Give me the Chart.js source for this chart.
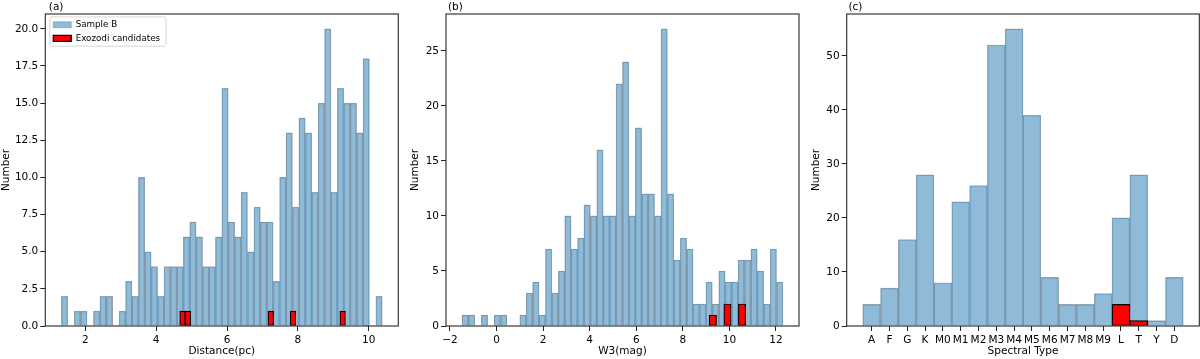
<!DOCTYPE html>
<html>
<head>
<meta charset="utf-8">
<script src="https://cdn.jsdelivr.net/npm/chart.js@4.4.1/dist/chart.umd.min.js"></script>
<style>
  html, body { margin: 0; padding: 0; background: #fff; }
  #wrap { position: relative; width: 1200px; height: 359px; overflow: hidden; }
  .panel { position: absolute; top: 0; width: 400px; height: 359px; }
</style>
</head>
<body>
<div id="wrap">
  <div class="panel" style="left:0px"><canvas id="distChart" width="400" height="359"></canvas></div>
  <div class="panel" style="left:400px"><canvas id="w3Chart" width="400" height="359"></canvas></div>
  <div class="panel" style="left:800px"><canvas id="specChart" width="400" height="359"></canvas></div>
</div>
<script>
// (a) distance histogram, 50 bins
const distBinStart = 1.322;
const distBinWidth = 0.1812;
const distCounts = [2,0,1,1,0,1,2,2,0,1,3,2,10,5,4,2,4,4,4,6,7,6,4,4,6,16,7,6,9,5,8,7,7,3,10,13,8,14,13,9,15,20,9,16,15,15,13,18,0,2];
// exozodi candidates, own binning (30 bins)
const distExoStart = 4.664;
const distExoWidth = 0.1559;
const distExoCounts = [1,1,0,0,0,0,0,0,0,0,0,0,0,0,0,0,1,0,0,0,1,0,0,0,0,0,0,0,0,1];
const distRange = [0.869, 10.834];
const distTicks = [2, 4, 6, 8, 10];
const distYTicks = [0, 2.5, 5, 7.5, 10, 12.5, 15, 17.5, 20];

// (b) W3 histogram, 50 bins
const w3BinStart = -1.484;
const w3BinWidth = 0.2757;
const w3Counts = [1,1,0,1,0,1,1,0,0,1,3,4,1,7,3,5,10,7,8,11,10,16,10,10,22,24,10,18,12,12,10,27,12,6,8,7,2,2,4,2,5,4,4,6,6,7,5,2,7,4];
const w3ExoStart = 9.135;
const w3ExoWidth = 0.313;
const w3ExoCounts = [1,0,2,0,2];
const w3Range = [-2.17, 12.99];
const w3Ticks = [-2, 0, 2, 4, 6, 8, 10, 12];
const w3YTicks = [0, 5, 10, 15, 20, 25];

// (c) spectral types
const spectralTypes = ['A','F','G','K','M0','M1','M2','M3','M4','M5','M6','M7','M8','M9','L','T','Y','D'];
const spectralCounts = [4,7,16,28,8,23,26,52,55,39,9,4,4,6,20,28,1,9];
const spectralExoCounts = [0,0,0,0,0,0,0,0,0,0,0,0,0,0,4,1,0,0];
const specRange = [-1.4, 18.4];
const specYTicks = [0, 10, 20, 30, 40, 50];

const FONT = '"DejaVu Sans", sans-serif';
Chart.defaults.font.family = FONT;
Chart.defaults.font.size = 10.5;
Chart.defaults.color = '#000';

const BLUE = 'rgba(31,119,180,0.5)';
const BLUE_EDGE = 'rgba(90,105,118,0.55)';
const RED = '#ff0000';
const LEGEND_FS = 8.75;
const LEGEND_PAD = 4.75;

function binCenters(start, width, n) {
  return Array.from({length: n}, (_, i) => start + width * (i + 0.5));
}
function toPoints(xs, ys) {
  return ys.map((y, i) => ({x: xs[i], y: y}));
}
function minus(v) {
  return v < 0 ? '\u2212' + Math.abs(v) : String(v);
}

// axes frame on all four sides, and nudge the panel label to the right
const framePlugin = {
  id: 'frame',
  afterLayout(chart, args, opts) {
    if (chart.titleBlock) {
      chart.titleBlock.left += opts.titleShift || 0;
      chart.titleBlock.right += opts.titleShift || 0;
    }
  },
  afterDraw(chart) {
    const {ctx, chartArea: a} = chart;
    ctx.save();
    ctx.strokeStyle = '#262626';
    ctx.lineWidth = 1.1;
    ctx.strokeRect(a.left, a.top, a.right - a.left, a.bottom - a.top);
    ctx.restore();
  }
};

const legendFramePlugin = {
  id: 'legendFrame',
  afterLayout(chart) {
    const lg = chart.legend;
    lg.left = chart.chartArea.left + 3.2;
    lg.top = chart.chartArea.top + 1.7;
    lg.bottom = chart.chartArea.bottom;
  },
  beforeDraw(chart) {
    const lg = chart.legend;
    const ctx = chart.ctx;
    ctx.save();
    ctx.font = LEGEND_FS + 'px ' + FONT;
    const tw = Math.max(...lg.legendItems.map(it => ctx.measureText(it.text).width));
    const x0 = lg.left + LEGEND_PAD;
    const y0 = lg.top + LEGEND_PAD;
    const n = lg.legendItems.length;
    const left = x0 - 3.3;
    const top = y0 - 3.5;
    const right = x0 + 18 + LEGEND_FS / 2 + tw + 6;
    const bottom = y0 + n * (LEGEND_FS + LEGEND_PAD) - LEGEND_PAD + 3.5;
    ctx.beginPath();
    ctx.roundRect(left, top, right - left, bottom - top, 2);
    ctx.fillStyle = 'rgba(255,255,255,0.8)';
    ctx.fill();
    ctx.strokeStyle = '#d6d6d6';
    ctx.lineWidth = 1;
    ctx.stroke();
    ctx.restore();
  }
};

function xScale(range, ticksArr, title, fmt) {
  return {
    type: 'linear', axis: 'x', position: 'bottom',
    min: range[0], max: range[1], offset: false,
    grid: { display: true, offset: false, drawOnChartArea: false, drawTicks: true, tickLength: 5, color: '#222', lineWidth: 1 },
    border: { display: false },
    ticks: { padding: 3, autoSkip: false, maxRotation: 0, minRotation: 0, color: '#000', callback: fmt },
    title: { display: true, text: title, color: '#000', padding: {top: 0, bottom: 1} },
    afterBuildTicks: s => { s.ticks = ticksArr.map(v => ({value: v})); },
    afterFit: s => { s.height = 33; }
  };
}

function hiddenX(range) {
  return { type: 'linear', axis: 'x', position: 'bottom', display: false, min: range[0], max: range[1], offset: false };
}

function yScale(max, ticksArr, fmt, titlePad, width) {
  return {
    type: 'linear', min: 0, max: max,
    grid: { display: true, drawOnChartArea: false, drawTicks: true, tickLength: 5, color: '#222', lineWidth: 1 },
    border: { display: false },
    ticks: { padding: 2, color: '#000', callback: fmt },
    title: { display: true, text: 'Number', color: '#000', padding: {top: titlePad, bottom: 0} },
    afterBuildTicks: s => { s.ticks = ticksArr.map(v => ({value: v})); },
    afterFit: s => { s.width = width; }
  };
}

function blueSet(data) {
  return { label: 'Sample B', data: data, xAxisID: 'x', backgroundColor: BLUE, borderColor: BLUE_EDGE,
    borderWidth: 0.7, barPercentage: 1, categoryPercentage: 1, grouped: false };
}
function redSet(data, axis) {
  return { label: 'Exozodi candidates', data: data, xAxisID: axis, backgroundColor: RED, borderColor: '#000',
    borderWidth: 1.2, borderSkipped: false, barPercentage: 1, categoryPercentage: 1, grouped: false };
}

function titleOpt(text) {
  return { display: true, text: text, align: 'start', fullSize: false, color: '#000',
    font: { size: 10.5, weight: 'normal' }, padding: { top: 0.7, bottom: 0.7 } };
}

const common = { responsive: false, animation: false, devicePixelRatio: 1, events: [] };

// (a)
new Chart(document.getElementById('distChart'), {
  type: 'bar',
  data: {
    datasets: [
      redSet(toPoints(binCenters(distExoStart, distExoWidth, distExoCounts.length), distExoCounts), 'xr'),
      blueSet(toPoints(binCenters(distBinStart, distBinWidth, distCounts.length), distCounts))
    ]
  },
  options: Object.assign({}, common, {
    layout: { padding: { left: 0, right: 1.7, top: 0, bottom: 0 } },
    scales: {
      x: xScale(distRange, distTicks, 'Distance(pc)', v => String(v)),
      xr: hiddenX(distRange),
      y: yScale(21, distYTicks, v => v.toFixed(1), 0, 45.3)
    },
    plugins: {
      title: titleOpt('(a)'),
      frame: { titleShift: 3.5 },
      tooltip: { enabled: false },
      legend: {
        display: true, position: 'chartArea', align: 'start', reverse: true,
        labels: { boxWidth: 18, boxHeight: 6, padding: LEGEND_PAD, color: '#000', font: { size: LEGEND_FS } }
      }
    }
  }),
  plugins: [legendFramePlugin, framePlugin]
});

// (b)
new Chart(document.getElementById('w3Chart'), {
  type: 'bar',
  data: {
    datasets: [
      redSet(toPoints(binCenters(w3ExoStart, w3ExoWidth, w3ExoCounts.length), w3ExoCounts), 'xr'),
      blueSet(toPoints(binCenters(w3BinStart, w3BinWidth, w3Counts.length), w3Counts))
    ]
  },
  options: Object.assign({}, common, {
    layout: { padding: { left: 0, right: 1, top: 0, bottom: 0 } },
    scales: {
      x: xScale(w3Range, w3Ticks, 'W3(mag)', minus),
      xr: hiddenX(w3Range),
      y: yScale(28.35, w3YTicks, v => String(v), 9.2, 46)
    },
    plugins: {
      title: titleOpt('(b)'),
      frame: { titleShift: 2 },
      tooltip: { enabled: false },
      legend: { display: false }
    }
  }),
  plugins: [framePlugin]
});

// (c)
const specIdx = spectralTypes.map((_, i) => i);
new Chart(document.getElementById('specChart'), {
  type: 'bar',
  data: {
    datasets: [
      redSet(toPoints(specIdx, spectralExoCounts), 'x'),
      blueSet(toPoints(specIdx, spectralCounts))
    ]
  },
  options: Object.assign({}, common, {
    layout: { padding: { left: 0, right: 0.7, top: 0, bottom: 0 } },
    scales: {
      x: xScale(specRange, specIdx, 'Spectral Type', v => spectralTypes[Math.round(v)]),
      y: yScale(57.75, specYTicks, v => String(v), 9.7, 46.7)
    },
    plugins: {
      title: titleOpt('(c)'),
      frame: { titleShift: 1.7 },
      tooltip: { enabled: false },
      legend: { display: false }
    }
  }),
  plugins: [framePlugin]
});
</script>
</body>
</html>
